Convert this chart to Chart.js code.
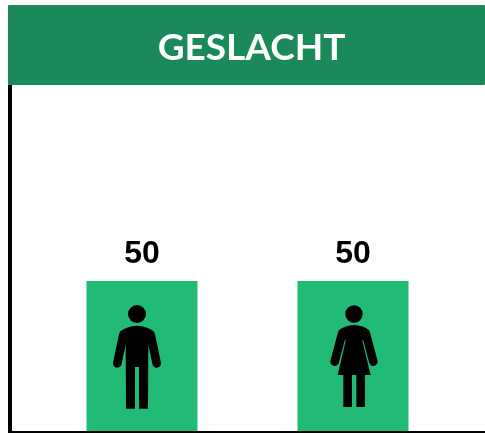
<!DOCTYPE html>
<html>
<head>
<meta charset="utf-8">
<style>html,body{margin:0;padding:0;background:#fff}#w{width:485px;height:433px;position:relative}</style>
<script src="https://cdn.jsdelivr.net/npm/chart.js@4/dist/chart.umd.min.js"></script>
</head>
<body>
<div id="w"><canvas id="c" width="485" height="433"></canvas></div>
<script>
const categories = ['Man', 'Vrouw'];
const values = [50, 50];
const titleText = 'GESLACHT';

const decor = {
  id: 'decor',
  afterLayout(chart) { chart.titleBlock.left += 8; },
  beforeDraw(chart) {
    const c = chart.ctx;
    c.save();
    c.fillStyle = '#1A8A5A';
    c.beginPath();
    c.roundRect(8, 5, 477, 80, 1);
    c.fill();
    c.restore();
  },
  afterDraw(chart) {
    const c = chart.ctx;
    c.save();
    c.fillStyle = '#000';
    c.fillRect(8, 85, 4, 348);
    c.fillRect(8, 431, 477, 2);
    const bars = chart.getDatasetMeta(0).data;
    c.font = 'bold 32px "Liberation Sans", Arial, sans-serif';
    c.textAlign = 'center';
    c.textBaseline = 'middle';
    bars.forEach((b, i) => c.fillText(String(values[i]), b.x, b.y - 27));
    drawMan(c, bars[0]);
    drawWoman(c, bars[1]);
    c.restore();
  }
};

function limb(c, x1, y1, x2, y2, w) {
  c.lineWidth = w; c.lineCap = 'round'; c.strokeStyle = '#000';
  c.beginPath(); c.moveTo(x1, y1); c.lineTo(x2, y2); c.stroke();
}
function head(c, x, y, r) {
  c.beginPath(); c.arc(x, y, r, 0, Math.PI * 2); c.fill();
}
function drawMan(c, bar) {
  c.save();
  c.translate(bar.x - 5, bar.base);
  c.scale(1 / 3, 1 / 3);
  c.translate(-201, -483);
  c.fillStyle = '#000';
  head(c, 201, 132, 27);
  c.beginPath();
  c.moveTo(201, 167);
  c.quadraticCurveTo(232, 168, 252, 185);
  c.lineTo(235, 225);
  c.lineTo(234, 416); c.lineTo(207, 416); c.lineTo(207, 291);
  c.lineTo(195, 291); c.lineTo(195, 416); c.lineTo(168, 416);
  c.lineTo(167, 225);
  c.lineTo(150, 185);
  c.quadraticCurveTo(170, 168, 201, 167);
  c.fill();
  limb(c, 160, 194, 142, 280, 26);
  limb(c, 242, 194, 260, 280, 26);
  c.restore();
}
function drawWoman(c, bar) {
  c.save();
  c.translate(bar.x + 1, bar.base);
  c.scale(1 / 3, 1 / 3);
  c.translate(-207, -483);
  c.fillStyle = '#000';
  head(c, 207, 132, 26);
  c.beginPath();
  c.moveTo(207, 165);
  c.quadraticCurveTo(235, 166, 254, 182);
  c.lineTo(232, 212);
  c.lineTo(257, 315);
  c.lineTo(240, 315); c.lineTo(240, 411); c.lineTo(214, 411); c.lineTo(214, 315);
  c.lineTo(201, 315); c.lineTo(201, 411); c.lineTo(175, 411); c.lineTo(175, 315);
  c.lineTo(158, 315);
  c.lineTo(182, 212);
  c.lineTo(160, 182);
  c.quadraticCurveTo(180, 166, 207, 165);
  c.fill();
  limb(c, 171, 192, 149, 275, 26);
  limb(c, 243, 192, 265, 275, 26);
  c.restore();
}

new Chart(document.getElementById('c'), {
  type: 'bar',
  data: {
    labels: categories,
    datasets: [{
      label: titleText,
      data: values,
      backgroundColor: '#22BB76',
      borderWidth: 0,
      categoryPercentage: 1,
      barPercentage: 0.526
    }]
  },
  options: {
    responsive: false,
    animation: false,
    devicePixelRatio: 1,
    layout: { padding: { left: 36.5, right: 26.5, top: 0, bottom: 2 } },
    plugins: {
      legend: { display: false },
      tooltip: { enabled: false },
      title: {
        display: true,
        text: titleText,
        color: '#fff',
        font: { family: 'Lato, sans-serif', size: 37, weight: 'bold', lineHeight: 1.2 },
        padding: { top: 26, bottom: 60.6 }
      }
    },
    scales: {
      x: { display: false, grid: { display: false } },
      y: { display: false, min: 0, max: 100, grid: { display: false } }
    }
  },
  plugins: [decor]
});
</script>
</body>
</html>
